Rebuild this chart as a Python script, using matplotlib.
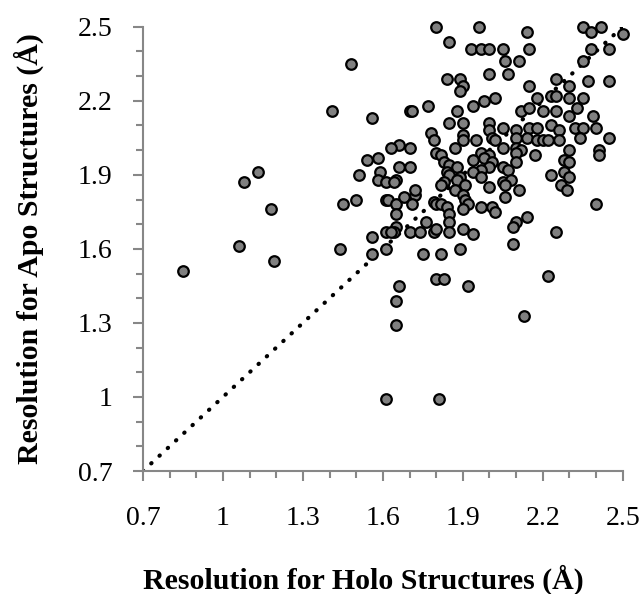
import matplotlib
matplotlib.use("Agg")
import matplotlib.pyplot as plt
from matplotlib.ticker import MultipleLocator

plt.rcParams['font.family'] = ['Liberation Serif', 'DejaVu Serif']

# resolution pairs (holo, apo)
holo = [0.85, 1.06, 1.08, 1.13, 1.18, 1.19,
        1.48, 1.41, 1.56, 1.70,
        1.66, 1.63, 1.70, 1.58, 1.54, 1.66, 1.70, 1.51, 1.59, 1.58,
        1.61, 1.65, 1.64, 1.45, 1.50, 1.61, 1.62, 1.65, 1.68, 1.72,
        1.71, 1.65, 1.65, 1.64, 1.61, 1.63, 1.70, 1.74, 1.56, 1.44,
        1.61, 1.56,
        1.80, 1.96, 1.85, 1.93, 1.97, 2.00, 2.05, 2.06, 2.07, 2.00,
        1.84, 1.89, 1.90, 1.89, 1.77, 1.71, 1.88, 1.94, 1.98, 2.02,
        1.85, 1.90, 2.00, 2.05, 1.78, 1.79, 1.90, 1.90, 2.00, 2.01,
        2.02, 1.95, 1.87, 2.05, 1.80, 1.82, 1.97, 2.00, 1.98, 1.94,
        1.83, 1.85, 1.88, 2.01, 2.00, 2.05, 1.97, 1.94, 1.84, 1.85,
        1.89, 1.88, 1.97, 1.83, 1.82, 1.91, 2.00, 2.05, 1.87, 1.72,
        2.06, 1.90, 1.91, 1.92, 1.79, 1.80, 1.82, 1.84, 1.97, 2.01,
        1.85, 1.90, 2.02, 1.76, 1.79, 1.80, 1.85, 1.85, 1.90, 1.94,
        1.75, 1.82, 1.89, 1.80, 1.83, 1.92,
        2.35, 2.38, 2.42, 2.50, 2.14, 2.15, 2.38, 2.45, 2.11, 2.35,
        2.15, 2.25, 2.30, 2.37, 2.45, 2.18, 2.23, 2.25, 2.30, 2.35,
        2.12, 2.15, 2.20, 2.25, 2.30, 2.33, 2.39,
        2.10, 2.15, 2.18, 2.23, 2.26, 2.32, 2.35, 2.34, 2.40, 2.14,
        2.18, 2.20, 2.22, 2.26, 2.10, 2.45, 2.10, 2.12, 2.10, 2.30,
        2.41, 2.41, 2.17, 2.10, 2.28, 2.30, 2.07, 2.08, 2.06, 2.11,
        2.23, 2.28, 2.30, 2.27, 2.29, 2.40,
        2.14, 2.10, 2.09, 2.25, 2.09, 2.22,
        1.66, 1.65, 1.65, 1.61, 1.81, 2.13]
apo = [1.51, 1.61, 1.87, 1.91, 1.76, 1.55,
       2.35, 2.16, 2.13, 2.16,
       2.02, 2.01, 2.01, 1.97, 1.96, 1.93, 1.93, 1.90, 1.91, 1.88,
       1.87, 1.88, 1.87, 1.78, 1.80, 1.80, 1.80, 1.78, 1.81, 1.82,
       1.78, 1.74, 1.69, 1.67, 1.67, 1.67, 1.67, 1.67, 1.65, 1.60,
       1.60, 1.58,
       2.50, 2.50, 2.44, 2.41, 2.41, 2.41, 2.41, 2.36, 2.31, 2.31,
       2.29, 2.29, 2.26, 2.24, 2.18, 2.16, 2.16, 2.18, 2.20, 2.21,
       2.11, 2.11, 2.11, 2.09, 2.07, 2.04, 2.06, 2.04, 2.08, 2.05,
       2.04, 2.04, 2.01, 2.01, 1.99, 1.98, 1.99, 1.98, 1.97, 1.96,
       1.95, 1.94, 1.93, 1.95, 1.93, 1.93, 1.92, 1.91, 1.91, 1.90,
       1.89, 1.88, 1.89, 1.87, 1.86, 1.86, 1.85, 1.87, 1.84, 1.84,
       1.81, 1.82, 1.80, 1.78, 1.79, 1.78, 1.78, 1.77, 1.77, 1.77,
       1.74, 1.76, 1.75, 1.71, 1.67, 1.68, 1.71, 1.67, 1.68, 1.66,
       1.58, 1.58, 1.60, 1.48, 1.48, 1.45,
       2.50, 2.48, 2.50, 2.47, 2.48, 2.41, 2.41, 2.41, 2.36, 2.36,
       2.26, 2.29, 2.26, 2.28, 2.28, 2.21, 2.22, 2.22, 2.21, 2.21,
       2.16, 2.17, 2.16, 2.16, 2.14, 2.17, 2.14,
       2.08, 2.09, 2.09, 2.10, 2.08, 2.09, 2.09, 2.05, 2.09, 2.05,
       2.04, 2.04, 2.04, 2.04, 2.05, 2.05, 2.01, 2.00, 1.99, 2.00,
       2.00, 1.98, 1.98, 1.95, 1.96, 1.95, 1.92, 1.88, 1.86, 1.84,
       1.90, 1.91, 1.89, 1.86, 1.84, 1.78,
       1.73, 1.71, 1.69, 1.67, 1.62, 1.49,
       1.45, 1.39, 1.29, 0.99, 0.99, 1.33]

ticks = [0.7, 1.0, 1.3, 1.6, 1.9, 2.2, 2.5]
tick_labels = ["0.7", "1", "1.3", "1.6", "1.9", "2.2", "2.5"]

fig = plt.figure(figsize=(6.44, 5.94), dpi=100)
ax = fig.add_axes([0.222, 0.207, 0.745, 0.748])

# y = x reference line
ax.plot([0.7, 2.5], [0.7, 2.5], color="black", lw=3,
        linestyle=(0, (0.1, 2.6)), dash_capstyle="round", zorder=1)
ax.scatter(holo, apo, s=58, c="#808080", edgecolors="black",
           linewidths=1.6, zorder=2, clip_on=False)

ax.set_xlim(0.7, 2.5)
ax.set_ylim(0.7, 2.5)
ax.set_xticks(ticks)
ax.set_xticklabels(tick_labels)
ax.set_yticks(ticks)
ax.set_yticklabels(tick_labels)
ax.xaxis.set_minor_locator(MultipleLocator(0.1))
ax.yaxis.set_minor_locator(MultipleLocator(0.1))

for s in ["top", "right"]:
    ax.spines[s].set_visible(False)
for s in ["left", "bottom"]:
    ax.spines[s].set_color("#878787")
    ax.spines[s].set_linewidth(1.5)

ax.tick_params(which="major", direction="out", length=7, width=1.5,
               color="#878787", labelsize=20)
ax.tick_params(which="minor", direction="out", length=5, width=1.5,
               color="#878787")
ax.tick_params(axis="x", which="major", pad=18)
ax.tick_params(axis="y", which="major", pad=15)

ax.set_xlabel("Resolution for Holo Structures (Å)", fontsize=21.5,
              fontweight="bold")
ax.set_ylabel("Resolution for Apo Structures (Å)", fontsize=21.5,
              fontweight="bold")
ax.xaxis.set_label_coords(0.46, -0.245)
ax.yaxis.set_label_coords(-0.238, 0.5)
ax.xaxis.label.set_va("center")
ax.yaxis.label.set_va("center")

fig.savefig("out.png", dpi=100)
